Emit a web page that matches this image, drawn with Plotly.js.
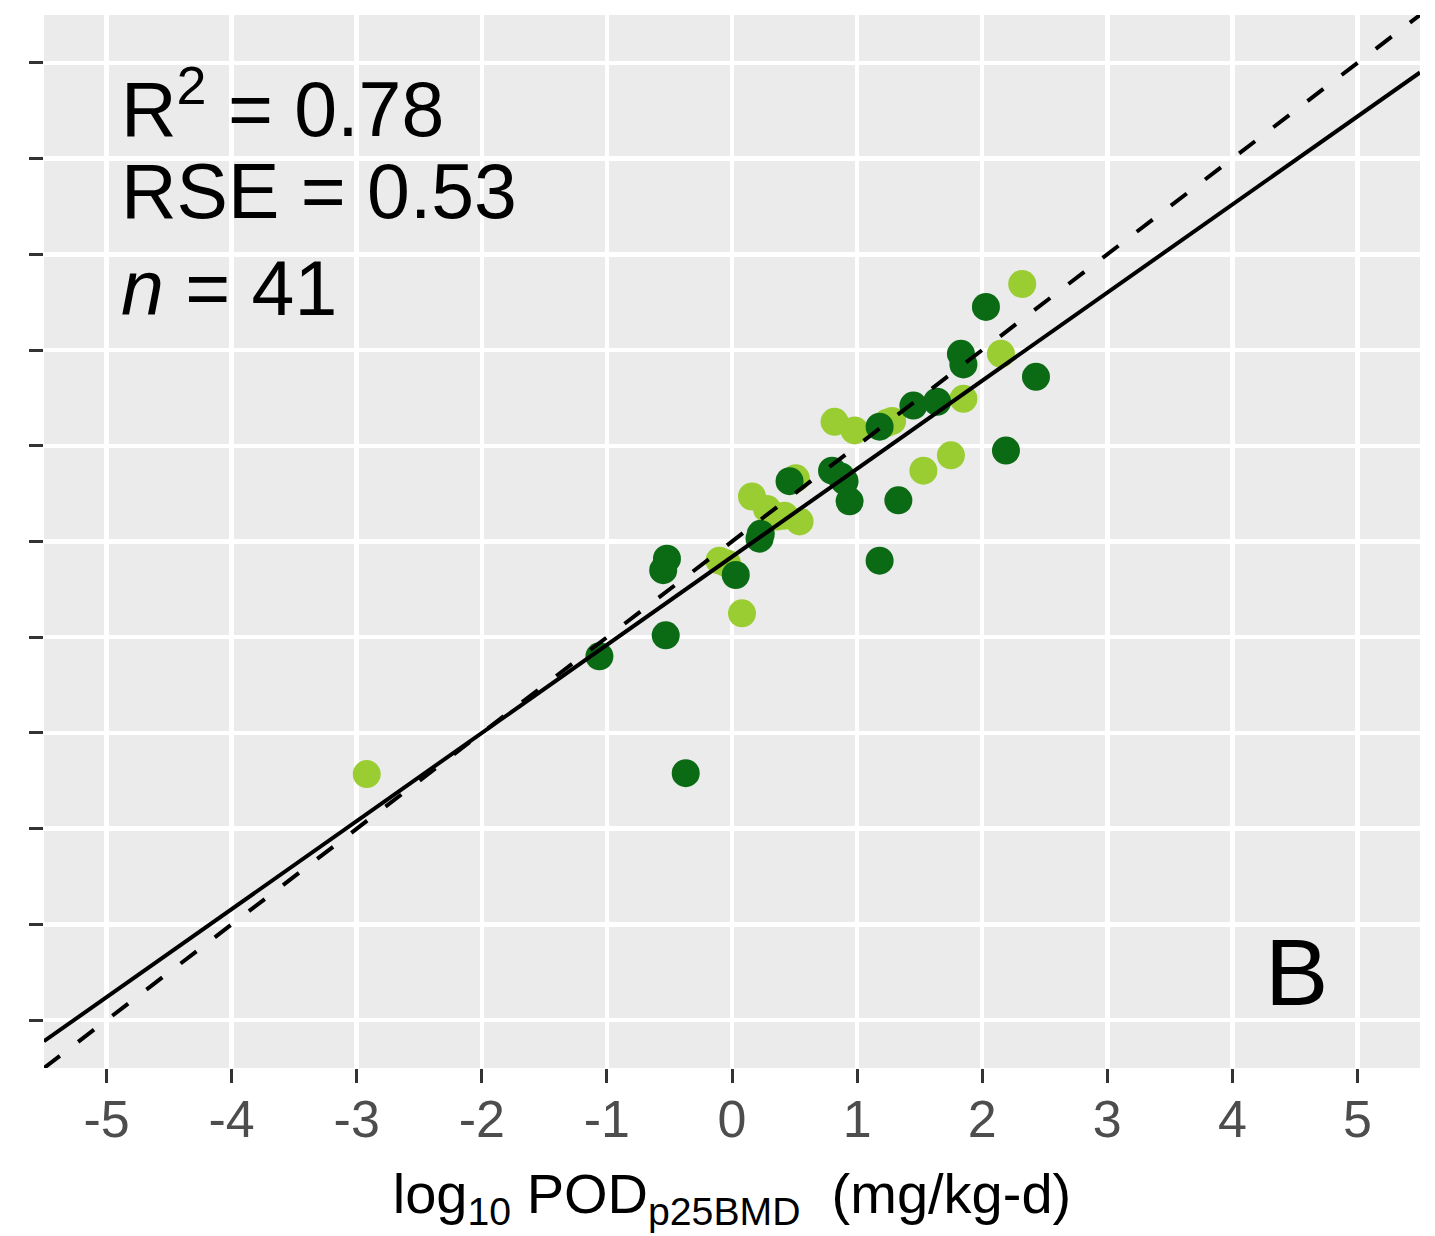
<!DOCTYPE html>
<html>
<head>
<meta charset="utf-8">
<script src="https://cdn.plot.ly/plotly-3.0.1.min.js"></script>
<style>
  html, body { margin: 0; padding: 0; background: #ffffff; }
  #chart { width: 1435px; height: 1236px; }
</style>
</head>
<body>
<div id="chart"></div>
<script>
// ---- data ----
var xLight = [-2.92, -0.10, -0.04, 0.08, 0.16, 0.28, 0.36, 0.42, 0.54, 0.51, 0.82, 0.98, 1.28, 1.53, 1.75, 1.85, 2.15, 2.32, 1.24];
var yLight = [-2.43, -0.20, -0.23, -0.75, 0.47, 0.34, 0.26, 0.27, 0.21, 0.66, 1.25, 1.16, 1.26, 0.74, 0.90, 1.49, 1.96, 2.69, 1.24];
var xDark = [-0.37, -1.06, -0.53, -0.52, -0.55, 0.03, 0.22, 0.23, 0.46, 0.80, 0.87, 0.90, 0.94, 1.18, 1.33, 1.18, 1.45, 1.64, 1.83, 1.85, 2.03, 2.19, 2.43];
var yDark = [-2.42, -1.20, -0.98, -0.18, -0.30, -0.35, 0.03, 0.08, 0.63, 0.74, 0.68, 0.63, 0.42, -0.20, 0.43, 1.20, 1.42, 1.46, 1.96, 1.85, 2.45, 0.95, 1.72];

var lineX = [-5.5, 5.5];             // extent of reference lines
var fitIntercept = -0.16;            // solid regression line
var fitSlope = 0.92;
var tickVals = [-5, -4, -3, -2, -1, 0, 1, 2, 3, 4, 5];
var tickText = ['-5', '-4', '-3', '-2', '-1', '0', '1', '2', '3', '4', '5'];
var statsText = ['R<sup>2</sup> = 0.78', 'RSE = 0.53', '<i>n</i> = 41'];
var statsY = [4.58, 3.66, 2.65];
var panelLabel = 'B';

var fitY = lineX.map(function (x) { return fitIntercept + fitSlope * x; });

var FONT = 'Liberation Sans, Arial, Helvetica, sans-serif';
var lightCol = '#9ACD32';
var darkCol = '#0B6A14';

var traces = [
  { x: xLight, y: yLight, mode: 'markers', type: 'scatter',
    marker: { color: lightCol, size: 28, line: { width: 0 } }, hoverinfo: 'x+y' },
  { x: xDark, y: yDark, mode: 'markers', type: 'scatter',
    marker: { color: darkCol, size: 28, line: { width: 0 } }, hoverinfo: 'x+y' },
  { x: lineX, y: lineX, mode: 'lines', type: 'scatter',
    line: { color: '#000000', width: 4, dash: '20px,23px' }, hoverinfo: 'skip' },
  { x: lineX, y: fitY, mode: 'lines', type: 'scatter',
    line: { color: '#000000', width: 4 }, hoverinfo: 'skip' }
];

var annotations = statsText.map(function (t, i) {
  return { x: -4.90, y: statsY[i], xref: 'x', yref: 'y', text: t, showarrow: false,
    xanchor: 'left', yanchor: 'middle', font: { family: FONT, size: 77, color: '#000000' } };
});
annotations.push({ x: 4.51, y: -4.5, xref: 'x', yref: 'y', text: panelLabel, showarrow: false,
  xanchor: 'center', yanchor: 'middle', font: { family: FONT, size: 95, color: '#000000' } });

var layout = {
  width: 1435, height: 1236,
  margin: { l: 44, r: 15, t: 15, b: 168, pad: 0 },
  paper_bgcolor: '#ffffff',
  plot_bgcolor: '#EBEBEB',
  showlegend: false,
  font: { family: FONT },
  xaxis: {
    range: [-5.5, 5.5], tickmode: 'array', tickvals: tickVals, ticktext: tickText,
    showgrid: true, gridcolor: '#ffffff', gridwidth: 4.5, zeroline: false,
    ticks: 'outside', ticklen: 14, tickwidth: 3, tickcolor: '#333333',
    ticklabelstandoff: -8,
    tickfont: { family: FONT, size: 52, color: '#4D4D4D' },
    showline: false,
    title: { text: 'log<sub>10</sub> POD<sub>p25BMD</sub>  (mg/kg-d)', font: { family: FONT, size: 56, color: '#000000' }, standoff: 26 }
  },
  yaxis: {
    range: [-5.5, 5.5], tickmode: 'array', tickvals: tickVals,
    showticklabels: false,
    showgrid: true, gridcolor: '#ffffff', gridwidth: 4.5, zeroline: false,
    ticks: 'outside', ticklen: 14, tickwidth: 3, tickcolor: '#333333',
    showline: false
  },
  annotations: annotations
};

Plotly.newPlot('chart', traces, layout, { displayModeBar: false, staticPlot: true });
</script>
</body>
</html>
